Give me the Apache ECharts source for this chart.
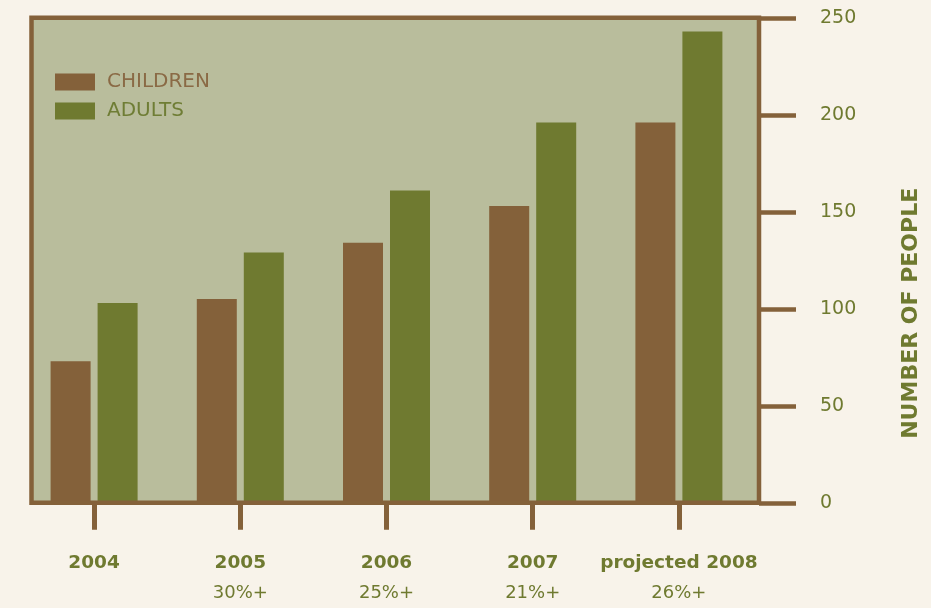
<!DOCTYPE html>
<html>
<head>
<meta charset="utf-8">
<script src="https://cdn.jsdelivr.net/npm/echarts@6/dist/echarts.min.js"></script>
<style>
html,body{margin:0;padding:0;background:#f8f3ea;}
#chart{width:931px;height:608px;}
</style>
</head>
<body>
<div id="chart"></div>
<script>
const categories = ['2004', '2005', '2006', '2007', 'projected 2008'];
const growthLabels = ['', '30%+', '25%+', '21%+', '26%+'];
const children = [73, 105, 134, 153, 196];
const adults = [103, 129, 161, 196, 243];
const yTicks = [0, 50, 100, 150, 200, 250];

const BROWN = '#84613a';
const GREEN = '#6f7a30';
const FONT = '"DejaVu Sans", sans-serif';

const yMin = yTicks[0], yMax = yTicks[yTicks.length - 1];

const chart = echarts.init(document.getElementById('chart'));
chart.setOption({
  backgroundColor: '#f8f3ea',
  animation: false,
  textStyle: { fontFamily: FONT },
  graphic: [
    { type: 'rect', z: 0, shape: { x: 31.5, y: 17.8, width: 727.5, height: 485 },
      style: { fill: '#b9bd9c' } },
    { type: 'rect', z: 100, shape: { x: 31.5, y: 17.8, width: 727.5, height: 485 },
      style: { fill: null, stroke: BROWN, lineWidth: 4.5 } }
  ],
  legend: {
    orient: 'vertical', left: 55, top: 72, padding: 0,
    itemWidth: 40, itemHeight: 17, itemGap: 9,
    icon: 'rect',
    data: [
      { name: 'CHILDREN', textStyle: { color: '#8a6a45' } },
      { name: 'ADULTS', textStyle: { color: '#6f7d35' } }
    ],
    textStyle: { fontSize: 20, lineHeight: 17, fontFamily: FONT, padding: [0, 0, 0, 7] }
  },
  grid: [
    { left: 21, width: 731, top: 17.8, bottom: 105.2, containLabel: false, outerBoundsMode: 'none' },
    { left: 32, width: 727, top: 17.8, bottom: 105.2, containLabel: false, outerBoundsMode: 'none' }
  ],
  xAxis: [
    {
      type: 'category', gridIndex: 0,
      data: categories,
      axisLine: { show: false },
      axisTick: { show: true, alignWithLabel: true, length: 27, lineStyle: { color: BROWN, width: 5 } },
      axisLabel: {
        margin: 48,
        interval: 0,
        formatter: function (v, i) {
          return growthLabels[i] ? '{b|' + v + '}\n{p|' + growthLabels[i] + '}' : '{b|' + v + '}';
        },
        rich: {
          b: { fontSize: 18.5, fontWeight: 'bold', color: GREEN, lineHeight: 24, fontFamily: FONT },
          p: { fontSize: 18, color: GREEN, lineHeight: 38, fontFamily: FONT }
        }
      }
    },
    { type: 'value', gridIndex: 1, show: false, min: 0, max: 1 }
  ],
  yAxis: [
    { type: 'value', gridIndex: 0, min: yMin, max: yMax, interval: 50, show: false },
    {
      type: 'value', gridIndex: 1, position: 'right',
      min: yMin, max: yMax, interval: 50,
      axisLine: { show: false, onZero: false },
      axisTick: { show: true, length: 37, lineStyle: { color: BROWN, width: 4.5 } },
      splitLine: { show: false },
      axisLabel: { color: GREEN, fontSize: 19, margin: 61, padding: [0, 0, 20, 0], fontFamily: FONT },
      name: 'NUMBER OF PEOPLE',
      nameLocation: 'middle', nameRotate: 90, nameGap: 141,
      nameTextStyle: { color: GREEN, fontSize: 22, fontWeight: 'bold', fontFamily: FONT,
        verticalAlign: 'top', padding: [0, 106, 0, 0] }
    }
  ],
  series: [
    { name: 'CHILDREN', type: 'bar', data: children, barWidth: 40, barGap: '17.5%',
      xAxisIndex: 0, yAxisIndex: 0, itemStyle: { color: BROWN }, z: 5 },
    { name: 'ADULTS', type: 'bar', data: adults, barWidth: 40,
      xAxisIndex: 0, yAxisIndex: 0, itemStyle: { color: GREEN }, z: 5 }
  ]
});
</script>
</body>
</html>
